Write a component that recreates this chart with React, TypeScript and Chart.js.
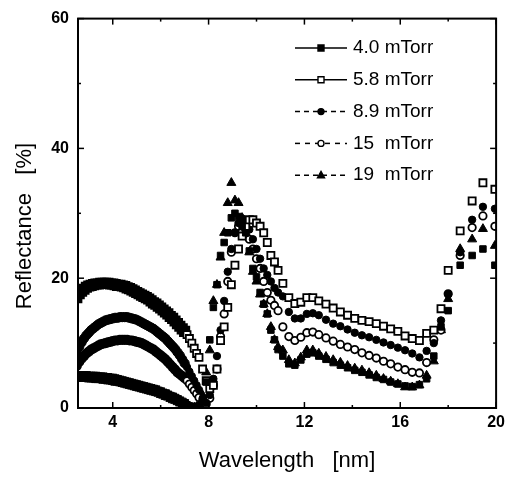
import React, { useEffect, useRef } from 'react';
import { Chart, registerables } from 'chart.js';

Chart.register(...registerables);

// Wavelength grid (nm)
const wavelength = [
  2.5, 2.6, 2.7, 2.8, 2.9, 3.0, 3.1, 3.2, 3.3, 3.4, 3.5, 3.6, 3.7, 3.8, 3.9, 4.0, 4.1, 4.2, 4.3, 4.4, 4.5,
  4.6, 4.7, 4.8, 4.9, 5.0, 5.1, 5.2, 5.3, 5.4, 5.5, 5.6, 5.7, 5.8, 5.9, 6.0, 6.1, 6.2, 6.3, 6.4, 6.5,
  6.6, 6.7, 6.8, 6.9, 7.0, 7.1, 7.2, 7.3, 7.4, 7.5,
  7.6, 7.75, 7.9, 8.05, 8.2, 8.35, 8.5, 8.65, 8.8, 8.95, 9.1, 9.25, 9.4, 9.55, 9.7, 9.85, 10.0, 10.15,
  10.3, 10.45, 10.6, 10.75, 10.9,
  11.1, 11.35, 11.6, 11.85, 12.1, 12.35, 12.6, 12.9, 13.2, 13.5, 13.8, 14.1, 14.4, 14.7, 15.0, 15.3,
  15.6, 15.9, 16.2, 16.5, 16.8, 17.1,
  17.4, 17.7, 18.0, 18.5, 19.0, 19.45, 19.95,
];

// Reflectance (%) for each pressure
const r4_0 = [
  5.0, 5.0, 5.0, 5.0, 5.0, 4.9, 4.9, 4.9, 4.9, 4.8, 4.8, 4.8, 4.7, 4.7, 4.6, 4.6, 4.5, 4.4, 4.3, 4.2, 4.1,
  4.0, 3.9, 3.8, 3.7, 3.6, 3.5, 3.4, 3.3, 3.2, 3.1, 3.0, 2.9, 2.8, 2.6, 2.5, 2.3, 2.2, 2.0, 1.8, 1.7,
  1.5, 1.3, 1.1, 0.9, 0.7, 0.5, 0.3, 0.2, 0.1, 0.1,
  0.3, 1.0, 4.0, 10.5, 15.5, 19.0, 23.5, 25.5, 27.0, 29.3, 30.0, 29.5, 28.0, 27.0, 24.2, 21.5, 20.2, 17.8,
  16.0, 14.5, 12.0, 10.5, 9.0,
  8.0, 6.8, 6.6, 7.4, 8.3, 8.5, 8.0, 7.5, 7.0, 6.6, 6.2, 5.8, 5.5, 5.1, 4.7, 4.4, 4.0, 3.7, 3.4, 3.3, 3.6, 4.5,
  8.0, 12.5, 15.0, 22.0, 23.5, 24.5, 22.0,
];
const r5_8 = [
  17.0, 17.6, 18.0, 18.3, 18.6, 18.8, 18.9, 19.0, 19.1, 19.1, 19.2, 19.2, 19.2, 19.2, 19.1, 19.1, 19.0,
  18.9, 18.9, 18.8, 18.7, 18.5, 18.4, 18.2, 18.0, 17.8, 17.6, 17.4, 17.2, 17.0, 16.8, 16.5, 16.2, 16.0,
  15.7, 15.4, 15.1, 14.8, 14.5, 14.1, 13.8, 13.4, 13.0, 12.6, 12.2, 11.8, 11.3, 10.7, 10.0, 9.2, 8.4,
  7.8, 6.0, 4.2, 3.0, 3.5, 6.0, 10.4, 12.5, 15.5, 19.0, 22.0, 24.5, 26.5, 28.0, 29.0, 29.0, 28.5, 28.0,
  27.0, 25.5, 23.5, 22.5, 21.2,
  19.2, 17.0, 16.1, 16.3, 17.0, 17.0, 16.5, 16.0, 15.4, 14.8, 14.3, 13.8, 13.5, 13.3, 13.0, 12.6, 12.2,
  11.8, 11.1, 10.7, 10.4, 11.5,
  12.0, 15.3, 21.2, 27.3, 31.9, 34.7, 33.7,
];
const r8_9 = [
  8.5, 9.4, 10.1, 10.7, 11.2, 11.6, 12.0, 12.3, 12.6, 12.9, 13.1, 13.3, 13.5, 13.6, 13.7, 13.8, 13.9,
  13.9, 14.0, 14.0, 14.0, 14.0, 13.9, 13.8, 13.7, 13.6, 13.4, 13.2, 13.0, 12.8, 12.6, 12.4, 12.2, 11.9,
  11.6, 11.3, 11.0, 10.7, 10.3, 9.9, 9.5, 9.1, 8.6, 8.1, 7.5, 6.9, 6.3, 5.6, 4.9, 4.2, 3.5,
  2.8, 1.5, 0.8, 2.0, 4.5, 8.0, 12.0, 16.5, 21.0, 24.5, 27.0, 28.5, 29.2, 28.8, 27.5, 26.0, 24.5, 23.0,
  21.5, 20.5, 19.5, 18.5, 17.8,
  17.2, 14.8, 13.8, 13.8, 14.5, 14.6, 14.3, 13.6, 13.0, 12.6, 12.1, 11.6, 11.2, 10.9, 10.5, 10.1, 9.7,
  9.3, 8.9, 8.4, 7.8, 8.8,
  10.0, 13.5, 17.5, 24.0, 29.0, 31.0, 30.7,
];
const r15 = [
  6.5, 7.1, 7.6, 8.0, 8.4, 8.7, 9.0, 9.2, 9.4, 9.6, 9.8, 9.9, 10.0, 10.1, 10.2, 10.3, 10.4, 10.4, 10.5,
  10.5, 10.5, 10.5, 10.4, 10.4, 10.3, 10.2, 10.1, 10.0, 9.8, 9.6, 9.4, 9.2, 9.0, 8.7, 8.4, 8.1, 7.8,
  7.5, 7.1, 6.7, 6.3, 5.9, 5.5, 5.2, 4.9, 4.6, 4.2, 3.7, 3.2, 2.7, 2.2,
  1.6, 1.0, 0.6, 1.5, 3.5, 6.0, 11.0, 14.5, 19.5, 24.0, 27.0, 28.0, 28.3, 27.5, 26.0, 24.5, 23.0, 21.5,
  19.5, 17.8, 16.6, 15.8, 15.0,
  12.5, 11.0, 10.4, 10.9, 11.6, 11.7, 11.3, 10.8, 10.3, 9.8, 9.4, 9.0, 8.5, 8.1, 7.7, 7.2, 6.8, 6.3,
  5.9, 5.5, 5.4, 7.0,
  10.5, 12.0, 17.6, 23.5, 27.8, 29.6, 28.0,
];
const r19 = [
  4.5, 4.5, 4.5, 4.5, 4.5, 4.4, 4.4, 4.4, 4.3, 4.3, 4.3, 4.2, 4.2, 4.1, 4.1, 4.0, 3.9, 3.9, 3.8, 3.7,
  3.6, 3.5, 3.4, 3.3, 3.2, 3.1, 3.0, 2.9, 2.8, 2.7, 2.6, 2.5, 2.4, 2.3, 2.2, 2.0, 1.9, 1.7, 1.6, 1.4,
  1.2, 1.1, 0.9, 0.7, 0.5, 0.4, 0.3, 0.2, 0.1, 0.1, 0.2,
  0.5, 2.0, 5.5, 8.9, 16.5, 19.0, 23.2, 27.0, 31.6, 34.7, 32.0, 31.6, 29.3, 27.0, 24.0, 21.0, 19.5, 17.5,
  16.0, 14.5, 12.5, 10.5, 9.4,
  8.9, 7.4, 6.9, 7.8, 8.9, 8.9, 8.4, 7.9, 7.4, 7.0, 6.5, 6.1, 5.8, 5.4, 5.0, 4.5, 4.1, 3.7, 3.2, 3.2,
  3.5, 5.0,
  7.2, 12.0, 16.8, 24.5, 26.0, 27.6, 25.0,
];

const seriesLabels = ['4.0 mTorr', '5.8 mTorr', '8.9 mTorr', '15  mTorr', '19  mTorr'];
const seriesValues = [r4_0, r5_8, r8_9, r15, r19];

const xTickValues = [4, 8, 12, 16, 20];
const xMinorTicks = [6, 10, 14, 18];
const yTickValues = [0, 20, 40, 60];
const yMinorTicks = [10, 30, 50];
const xTitle = 'Wavelength   [nm]';
const yTitle = 'Reflectance   [%]';

// the short-wavelength measurement is so dense that the marks merge into solid bands
const denseLimit = 7.05;

const FONT = 'Arial, "Liberation Sans", Helvetica, sans-serif';

type MarkerStyle = {
  shape: 'rect' | 'circle' | 'triangle';
  filled: boolean;
  radius: number;
  denseRadius: number;
  dash: number[];
};

const markerStyles: MarkerStyle[] = [
  { shape: 'rect', filled: true, radius: 4.6, denseRadius: 5.6, dash: [] },
  { shape: 'rect', filled: false, radius: 5.0, denseRadius: 6.6, dash: [] },
  { shape: 'circle', filled: true, radius: 3.7, denseRadius: 4.6, dash: [5, 4] },
  { shape: 'circle', filled: false, radius: 3.7, denseRadius: 4.2, dash: [5, 5] },
  { shape: 'triangle', filled: true, radius: 5.2, denseRadius: 5.0, dash: [5, 4] },
];

function drawMarker(ctx: CanvasRenderingContext2D, st: MarkerStyle, x: number, y: number, size: number) {
  ctx.beginPath();
  if (st.shape === 'rect') {
    ctx.rect(x - size / 2, y - size / 2, size, size);
  } else if (st.shape === 'circle') {
    ctx.arc(x, y, size / 2, 0, Math.PI * 2);
  } else {
    const h = size * 0.9;
    ctx.moveTo(x, y - h * 0.6);
    ctx.lineTo(x + size / 2, y + h * 0.4);
    ctx.lineTo(x - size / 2, y + h * 0.4);
    ctx.closePath();
  }
  ctx.fillStyle = st.filled ? '#000' : '#fff';
  ctx.fill();
  ctx.lineWidth = 1.4;
  ctx.strokeStyle = '#000';
  ctx.setLineDash([]);
  ctx.stroke();
}

const decorPlugin = {
  id: 'decor',
  afterDraw(chart: any) {
    const { ctx, chartArea } = chart;
    const { left, right, top, bottom } = chartArea;
    const xs = chart.scales.x;
    const ys = chart.scales.y;
    ctx.save();
    ctx.strokeStyle = '#000';
    ctx.setLineDash([]);
    ctx.lineWidth = 2;
    ctx.strokeRect(left, top, right - left, bottom - top);

    ctx.lineWidth = 1.5;
    const seg = (x1: number, y1: number, x2: number, y2: number) => {
      ctx.beginPath();
      ctx.moveTo(x1, y1);
      ctx.lineTo(x2, y2);
      ctx.stroke();
    };
    const xTick = (v: number, len: number) => {
      const p = xs.getPixelForValue(v);
      seg(p, bottom, p, bottom - len);
      seg(p, top, p, top + len);
    };
    const yTick = (v: number, len: number) => {
      const p = ys.getPixelForValue(v);
      seg(left, p, left + len, p);
      seg(right, p, right - len, p);
    };
    xTickValues.forEach((v) => xTick(v, 6));
    xMinorTicks.forEach((v) => xTick(v, 3));
    yTickValues.forEach((v) => yTick(v, 6));
    yMinorTicks.forEach((v) => yTick(v, 3));

    // axis titles
    ctx.fillStyle = '#000';
    ctx.font = `22px ${FONT}`;
    ctx.textAlign = 'center';
    ctx.textBaseline = 'middle';
    ctx.fillText(xTitle, (left + right) / 2, 461);
    ctx.save();
    ctx.translate(25, 226);
    ctx.rotate(-Math.PI / 2);
    ctx.fillText(yTitle, 0, 0);
    ctx.restore();

    // legend
    ctx.font = `19px ${FONT}`;
    ctx.textAlign = 'left';
    seriesLabels.forEach((label, i) => {
      const st = markerStyles[i];
      const y = 48 + i * 31.8;
      ctx.strokeStyle = '#000';
      ctx.lineWidth = 1.5;
      ctx.setLineDash(st.dash);
      seg(295, y, 347, y);
      ctx.setLineDash([]);
      drawMarker(ctx, st, 321, y, st.shape === 'triangle' ? 7 : 6);
      ctx.fillStyle = '#000';
      ctx.fillText(label, 353, y);
    });
    ctx.restore();
  },
};

export default function App() {
  const canvasRef = useRef<HTMLCanvasElement | null>(null);

  useEffect(() => {
    const canvas = canvasRef.current;
    if (!canvas) return;
    const isDense = (c: any) => c.raw && c.raw.x < denseLimit;
    const datasets = seriesLabels.map((label, i) => {
      const st = markerStyles[i];
      return {
        label,
        data: wavelength.map((x, j) => ({ x, y: seriesValues[i][j] })),
        showLine: false,
        borderDash: st.dash,
        borderColor: '#000',
        pointStyle: st.shape,
        pointRadius: (c: any) => (isDense(c) ? st.denseRadius : st.radius),
        pointHoverRadius: (c: any) => (isDense(c) ? st.denseRadius : st.radius),
        pointBackgroundColor: (c: any) => (st.filled || isDense(c) ? '#000' : '#fff'),
        pointBorderColor: '#000',
        pointBorderWidth: st.filled ? 1 : 1.8,
      };
    });

    const chart = new Chart(canvas, {
      type: 'scatter',
      data: { datasets },
      options: {
        responsive: false,
        animation: false,
        devicePixelRatio: 1,
        layout: { padding: { left: 0, right: 11, top: 17, bottom: 0 } },
        plugins: {
          legend: { display: false },
          tooltip: { enabled: false },
        },
        scales: {
          x: {
            type: 'linear',
            min: 2.55,
            max: 20,
            grid: { display: false, drawTicks: false },
            border: { display: false },
            afterBuildTicks: (s: any) => {
              s.ticks = xTickValues.map((v) => ({ value: v }));
            },
            afterFit: (s: any) => {
              s.height = 69;
            },
            ticks: {
              padding: 5,
              color: '#000',
              autoSkip: false,
              maxRotation: 0,
              font: { family: FONT, size: 16, weight: 'bold' },
              callback: (v: any) => String(v),
            },
          },
          y: {
            type: 'linear',
            min: 0,
            max: 60,
            grid: { display: false, drawTicks: false },
            border: { display: false },
            afterBuildTicks: (s: any) => {
              s.ticks = yTickValues.map((v) => ({ value: v }));
            },
            afterFit: (s: any) => {
              s.width = 78;
            },
            ticks: {
              padding: 9,
              color: '#000',
              autoSkip: false,
              font: { family: FONT, size: 16, weight: 'bold' },
              callback: (v: any) => String(v),
            },
          },
        },
      } as any,
      plugins: [decorPlugin],
    });
    return () => chart.destroy();
  }, []);

  return (
    <div style={{ position: 'absolute', left: 0, top: 0, width: 510, height: 477, background: '#fff' }}>
      <canvas ref={canvasRef} width={510} height={477} style={{ display: 'block', width: 510, height: 477 }} />
    </div>
  );
}
